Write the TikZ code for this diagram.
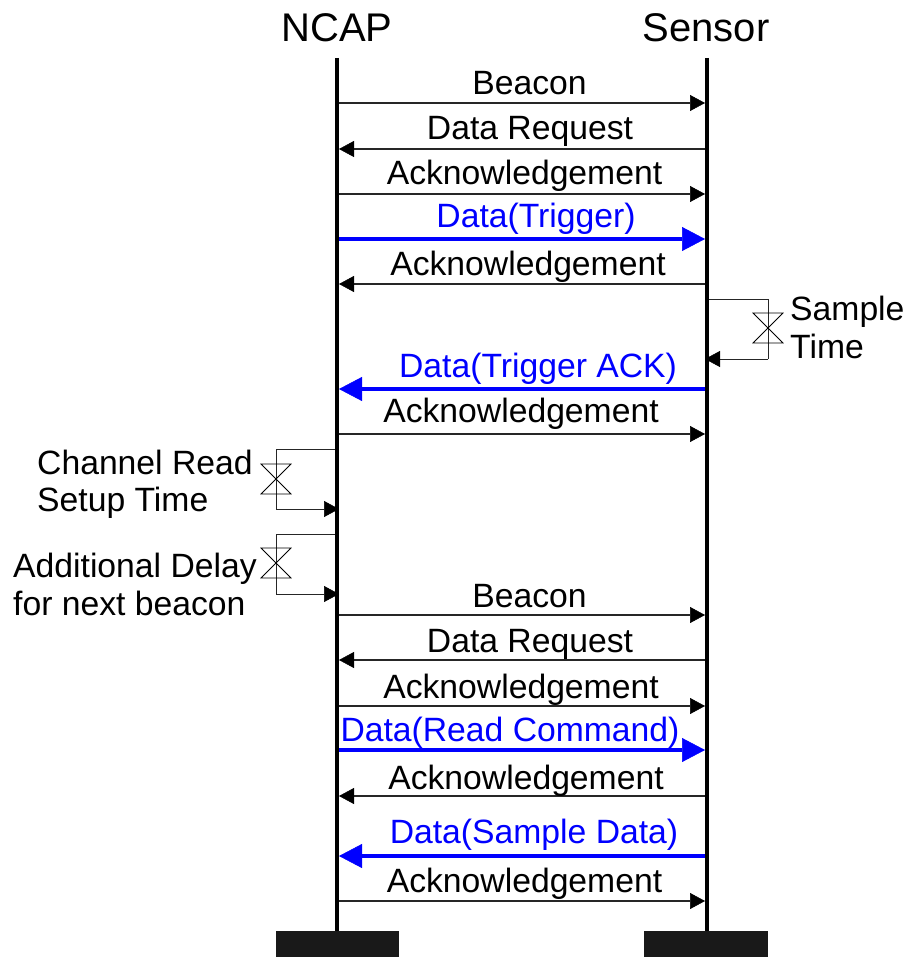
\documentclass[tikz,border=0pt]{standalone}
\usepackage{fontspec}
\setmainfont{Liberation Sans}
\usetikzlibrary{arrows.meta}
\definecolor{msgblue}{RGB}{0,0,255}
\begin{document}
\begin{tikzpicture}[x=1pt,y=-1pt,
 life/.style={line width=3.5pt,black},
 msg/.style={line width=1.2pt,black!85,-{Triangle[length=15pt,width=16pt,line width=0.5pt,black]}},
 bmsg/.style={line width=3.5pt,msgblue,-{Triangle[length=23pt,width=24pt,line width=0.5pt]}},
 loopln/.style={line width=1pt,black!85},
 looparr/.style={loopln,-{Triangle[length=15pt,width=16pt,line width=0.5pt,black]}},
 lbl/.style={font=\fontsize{33.7}{38}\selectfont,anchor=base,inner sep=0pt},
 blbl/.style={lbl,text=msgblue},
 ttl/.style={font=\fontsize{40}{46}\selectfont,anchor=base,inner sep=0pt},
 side/.style={font=\fontsize{33.7}{38}\selectfont,anchor=base west,inner sep=0pt},
 hg/.style={line width=0.8pt,black},
 hourglass/.pic={\draw[hg] (-15,-15) -- (15,-15) -- (-15,15) -- (15,15) -- cycle;}]
\path[use as bounding box,fill=white] (0,0) rectangle (906,957);

% titles
\node[ttl] (ncap) at (337,42) {NCAP};
\node[ttl] (sensor) at (706,42) {Sensor};

% lifelines
\coordinate (ntop) at (337,58);
\coordinate (nbot) at (337,931);
\coordinate (stop) at (707,58);
\coordinate (sbot) at (707,931);
\draw[life] (ntop) -- (nbot);
\draw[life] (stop) -- (sbot);
\fill[black!90] (276,931) rectangle (399,957);
\fill[black!90] (644,931) rectangle (768,957);

% message end points
\foreach \i/\y in {1/103,2/149,3/194,4/239,5/284,6/389,7/434,8/615,9/660,10/706,11/750,12/796,13/856,14/901}{
  \coordinate (n\i) at (339,\y);
  \coordinate (s\i) at (705,\y);
}

% messages
\draw[msg] (n1) -- (s1);
\node[lbl] (l1) at (529.5,95) {Beacon};
\draw[msg] (s2) -- (n2);
\node[lbl] (l2) at (530,140) {Data Request};
\draw[msg] (n3) -- (s3);
\node[lbl] (l3) at (524.5,185) {Acknowledgement};
\draw[bmsg] (n4) -- (s4);
\node[blbl] (l4) at (536,228) {Data(Trigger)};
\draw[msg] (s5) -- (n5);
\node[lbl] (l5) at (528,276) {Acknowledgement};
\draw[bmsg] (s6) -- (n6);
\node[blbl] (l6) at (538,377) {Data(Trigger ACK)};
\draw[msg] (n7) -- (s7);
\node[lbl] (l7) at (521,422) {Acknowledgement};
\draw[msg] (n8) -- (s8);
\node[lbl] (l8) at (529.5,607) {Beacon};
\draw[msg] (s9) -- (n9);
\node[lbl] (l9) at (530,652) {Data Request};
\draw[msg] (n10) -- (s10);
\node[lbl] (l10) at (521,698) {Acknowledgement};
\draw[bmsg] (n11) -- (s11);
\node[blbl] (l11) at (510,741) {Data(Read Command)};
\draw[msg] (s12) -- (n12);
\node[lbl] (l12) at (526,789) {Acknowledgement};
\draw[bmsg] (s13) -- (n13);
\node[blbl] (l13) at (534,843) {Data(Sample Data)};
\draw[msg] (n14) -- (s14);
\node[lbl] (l14) at (524.5,892) {Acknowledgement};

% sample time loop (sensor)
\coordinate (sa) at (709,299);
\coordinate (sb) at (705,359);
\coordinate (sc) at (768,299);
\coordinate (sd) at (768,359);
\draw[loopln] (sa) -- (sc) -- (sd);
\draw[looparr] (sd) -- (sb);
\pic at (768,328) {hourglass};
\node[side] (samp1) at (790,320) {Sample};
\node[side] (samp2) at (790,358) {Time};

% channel read setup loop (NCAP)
\coordinate (ca) at (335,449);
\coordinate (cb) at (339,509);
\coordinate (cc) at (276,449);
\coordinate (cd) at (276,509);
\draw[loopln] (ca) -- (cc) -- (cd);
\draw[looparr] (cd) -- (cb);
\pic at (276,479) {hourglass};
\node[side] (ch1) at (37,474) {Channel Read};
\node[side] (ch2) at (37,511) {Setup Time};

% additional delay loop (NCAP)
\coordinate (aa) at (335,534);
\coordinate (ab) at (339,594);
\coordinate (ac) at (276,534);
\coordinate (ad) at (276,594);
\draw[loopln] (aa) -- (ac) -- (ad);
\draw[looparr] (ad) -- (ab);
\pic at (276,563) {hourglass};
\node[side] (ad1) at (13,577) {Additional Delay};
\node[side] (ad2) at (13,615) {for next beacon};
\end{tikzpicture}
\end{document}
